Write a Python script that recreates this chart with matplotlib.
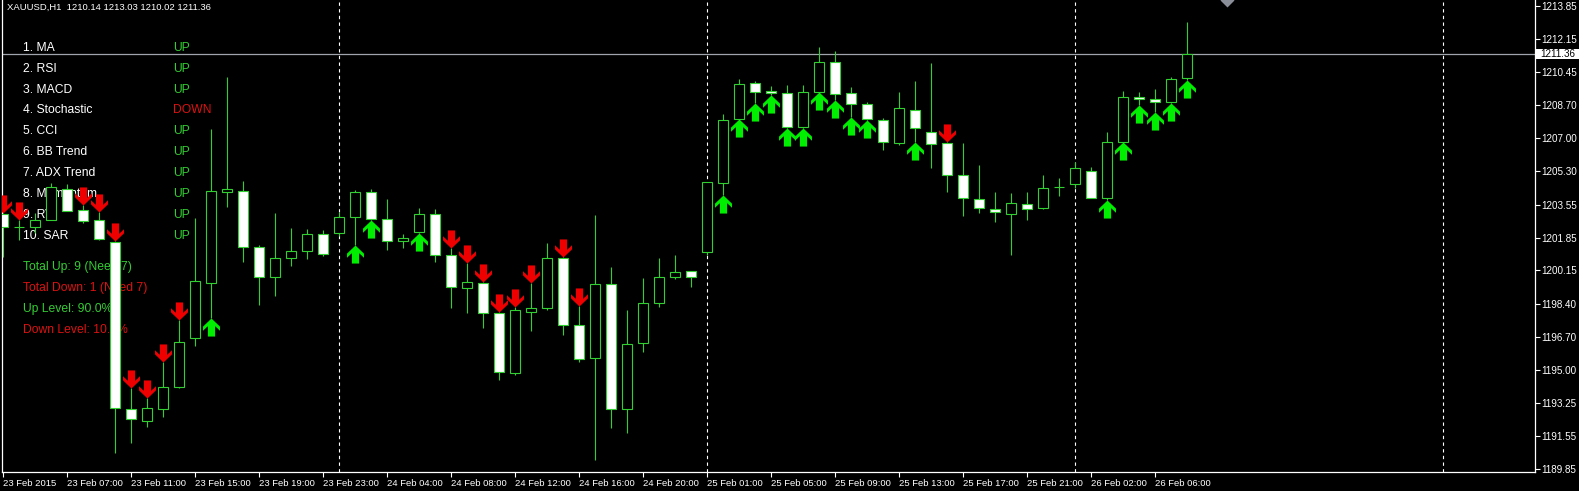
#python3

import numpy as np
import matplotlib
matplotlib.use('Agg')
import matplotlib.pyplot as plt
from matplotlib.path import Path
from matplotlib.patches import Rectangle
import matplotlib.transforms as mtransforms

plt.rcParams['font.family'] = ['Liberation Sans', 'DejaVu Sans']

#chart header
symbol = 'XAUUSD,H1'

#hourly bars (one row per bar, left to right)
opens = [1203.05, 1202.42, 1202.40, 1202.76, 1204.37, 1203.28, 1202.76, 1201.62, 1192.96, 1192.34,
         1192.96, 1194.10, 1196.64, 1199.49, 1204.21, 1204.26, 1201.36, 1199.80, 1200.79, 1201.15,
         1202.03, 1202.08, 1202.91, 1204.21, 1202.81, 1201.67, 1202.14, 1203.07, 1200.94, 1199.23,
         1199.49, 1197.94, 1194.83, 1197.99, 1198.20, 1200.79, 1197.32, 1195.60, 1199.44, 1192.96,
         1196.38, 1198.46, 1199.80, 1200.11, 1201.10, 1204.68, 1208.00, 1209.86, 1209.45, 1209.34,
         1207.58, 1209.39, 1210.95, 1209.34, 1208.77, 1207.94, 1206.75, 1208.46, 1207.32, 1206.75,
         1205.09, 1203.85, 1203.33, 1203.07, 1203.59, 1203.38, 1204.47, 1204.62, 1205.30, 1203.90,
         1206.80, 1209.13, 1209.03, 1208.88, 1210.14]
highs = [1203.10, 1202.76, 1203.12, 1204.68, 1204.62, 1203.54, 1203.17, 1201.67, 1194.05, 1193.53,
         1195.40, 1197.57, 1202.86, 1207.47, 1210.17, 1204.78, 1201.46, 1203.12, 1202.34, 1202.29,
         1202.24, 1203.17, 1204.31, 1204.37, 1203.85, 1202.03, 1203.38, 1203.33, 1201.31, 1200.53,
         1199.55, 1198.00, 1198.25, 1199.49, 1201.57, 1200.84, 1198.30, 1203.02, 1200.32, 1198.09,
         1199.75, 1200.79, 1200.94, 1200.12, 1204.75, 1208.25, 1210.07, 1209.96, 1209.70, 1209.76,
         1209.76, 1211.73, 1211.52, 1209.65, 1208.88, 1208.05, 1209.39, 1209.96, 1210.90, 1206.80,
         1206.75, 1205.61, 1204.21, 1204.16, 1204.21, 1205.09, 1204.94, 1205.76, 1205.51, 1207.32,
         1209.45, 1209.39, 1209.55, 1210.17, 1213.03]
lows = [1200.84, 1201.72, 1202.08, 1202.74, 1203.20, 1202.60, 1201.72, 1190.68, 1191.20, 1192.03,
        1192.55, 1194.05, 1196.23, 1197.68, 1203.43, 1200.58, 1198.35, 1198.82, 1200.37, 1200.74,
        1200.90, 1201.93, 1201.46, 1202.78, 1201.20, 1201.31, 1202.08, 1200.58, 1198.20, 1197.94,
        1197.16, 1194.46, 1194.72, 1197.00, 1198.09, 1196.80, 1195.40, 1190.32, 1191.98, 1191.72,
        1195.92, 1198.25, 1199.70, 1199.28, 1200.94, 1204.05, 1207.98, 1208.82, 1209.24, 1207.55,
        1207.55, 1209.37, 1208.98, 1208.10, 1207.94, 1206.39, 1206.65, 1206.80, 1205.45, 1204.21,
        1202.97, 1203.12, 1202.65, 1200.94, 1202.76, 1203.33, 1203.99, 1204.42, 1203.88, 1203.80,
        1206.78, 1208.72, 1208.36, 1208.82, 1210.02]
closes = [1202.40, 1202.38, 1202.76, 1204.47, 1203.22, 1202.71, 1201.77, 1193.01, 1192.44, 1193.01,
          1194.10, 1196.43, 1199.60, 1204.26, 1204.37, 1201.36, 1199.80, 1200.79, 1201.15, 1202.03,
          1201.00, 1202.91, 1204.21, 1202.81, 1201.67, 1201.82, 1203.07, 1200.94, 1199.28, 1199.54,
          1197.94, 1194.88, 1198.09, 1198.20, 1200.79, 1197.32, 1195.55, 1199.44, 1192.96, 1196.33,
          1198.46, 1199.80, 1200.06, 1199.80, 1204.73, 1207.94, 1209.81, 1209.39, 1209.34, 1207.58,
          1209.39, 1210.95, 1209.29, 1208.77, 1208.00, 1206.80, 1208.56, 1207.53, 1206.70, 1205.09,
          1203.90, 1203.38, 1203.17, 1203.64, 1203.33, 1204.42, 1204.49, 1205.45, 1203.90, 1206.80,
          1209.13, 1209.03, 1208.88, 1210.07, 1211.36]
#signal arrows: 1 = up arrow, -1 = down arrow, 0 = none
signals = [-1, -1, 0, 0, 0, -1, -1, -1, -1, -1,
           -1, -1, 0, 1, 0, 0, 0, 0, 0, 0,
           0, 0, 1, 1, 0, 0, 1, 0, -1, -1,
           -1, -1, -1, -1, 0, -1, -1, 0, 0, 0,
           0, 0, 0, 0, 0, 1, 1, 1, 1, 1,
           1, 1, 1, 1, 1, 0, 0, 1, 0, -1,
           0, 0, 0, 0, 0, 0, 0, 0, 0, 1,
           1, 1, 1, 1, 1]

#first bar of each trading day (period separators)
day_starts = [21, 44, 67, 90]

#axis labels
time_labels = ['23 Feb 2015', '23 Feb 07:00', '23 Feb 11:00', '23 Feb 15:00', '23 Feb 19:00',
               '23 Feb 23:00', '24 Feb 04:00', '24 Feb 08:00', '24 Feb 12:00', '24 Feb 16:00',
               '24 Feb 20:00', '25 Feb 01:00', '25 Feb 05:00', '25 Feb 09:00', '25 Feb 13:00',
               '25 Feb 17:00', '25 Feb 21:00', '26 Feb 02:00', '26 Feb 06:00']
price_labels = ['1213.85', '1212.15', '1210.45', '1208.70', '1207.00', '1205.30', '1203.55',
                '1201.85', '1200.15', '1198.40', '1196.70', '1195.00', '1193.25', '1191.55', '1189.85']

#indicator panel
ind_names = ['1. MA', '2. RSI', '3. MACD', '4. Stochastic', '5. CCI', '6. BB Trend',
             '7. ADX Trend', '8. Momentum', '9. RVI', '10. SAR']
ind_status = ['UP', 'UP', 'UP', 'DOWN', 'UP', 'UP', 'UP', 'UP', 'UP', 'UP']
summary_text = ['Total Up: 9 (Need 7)', 'Total Down: 1 (Need 7)', 'Up Level: 90.0%', 'Down Level: 10.0%']
summary_dir = ['UP', 'DOWN', 'UP', 'DOWN']

#colors
GREEN = '#33cc33'
RED = '#dd1111'
CANDLE = '#30d030'
ARROW_UP = '#00ee00'
ARROW_DN = '#ee0000'

W, H = 1579, 491

fig = plt.figure(figsize=(W / 100, H / 100), dpi=100, facecolor='black')
ax = fig.add_axes([2 / W, 19 / H, 1533 / W, 472 / H], facecolor='black')

n = len(opens)
x = np.arange(n)
o = np.array(opens)
h = np.array(highs)
l = np.array(lows)
c = np.array(closes)
sig = np.array(signals)

#wicks and bodies (bull = black body, bear = white body)
ax.vlines(x, l, h, color=CANDLE, lw=0.8, zorder=2)
body_bot = np.minimum(o, c)
body_h = np.maximum(np.abs(c - o), 0.02)
fills = np.where(c >= o, 'black', 'white')
ax.bar(x, body_h, bottom=body_bot, width=0.6, color=fills, edgecolor=CANDLE, linewidth=0.8, zorder=3)

#arrow markers, tip at the anchor point
up_verts = [(0, 0), (0.47, -0.45), (0.47, -0.68), (0.2, -0.42), (0.2, -1.0),
            (-0.2, -1.0), (-0.2, -0.42), (-0.47, -0.68), (-0.47, -0.45), (0, 0)]
codes = [Path.MOVETO] + [Path.LINETO] * 8 + [Path.CLOSEPOLY]
up_path = Path(up_verts, codes)
dn_path = Path([(vx, -vy) for vx, vy in up_verts], codes)

ax.plot(x[sig == 1], l[sig == 1], linestyle='none', marker=up_path, ms=26,
        mfc=ARROW_UP, mec='none', zorder=4)
ax.plot(x[sig == -1], h[sig == -1], linestyle='none', marker=dn_path, ms=26,
        mfc=ARROW_DN, mec='none', zorder=4)

#period separators
for d in day_starts:
    ax.axvline(d, color='white', lw=0.8, dashes=(3, 3), zorder=1)

#bid line
ax.axhline(c[-1], color='#a0a4ac', lw=0.9, zorder=1)

#limits (16 px per bar)
ax.set_xlim(-1 / 16, 1533 / 16 - 1 / 16)
ax.set_ylim(1189.694, 1214.163)

#chart shift marker
ax.plot(n + 1.5, 1214.163, marker='D', ms=7, color='#8a8e98', mec='none', clip_on=True, zorder=5)

#axes styling
for s in ['left', 'bottom', 'right']:
    ax.spines[s].set_color('white')
    ax.spines[s].set_linewidth(0.9)
ax.spines['top'].set_visible(False)

ax.yaxis.tick_right()
ax.set_yticks([float(p) for p in price_labels])
ax.set_yticklabels(price_labels)
ax.set_xticks(np.arange(0, 4 * len(time_labels), 4))
ax.set_xticklabels(time_labels)
ax.tick_params(colors='white', length=3.5, width=0.8, direction='out')
ax.tick_params(axis='x', pad=1.5, labelsize=6.8)
ax.tick_params(axis='y', pad=1, labelsize=7.1)
for lbl in ax.get_xticklabels():
    lbl.set_ha('left')

#price label box on the right scale
trans = mtransforms.blended_transform_factory(ax.transAxes, ax.transData)
px = 1 / 1533
ax.add_patch(Rectangle((1 + 1 * px, c[-1] - 5.2 / 19.29), 43 * px, 10.4 / 19.29, transform=trans,
                       facecolor='white', edgecolor='none', clip_on=False, zorder=6))
ax.text(1 + 5 * px, c[-1], '%.2f' % c[-1], transform=trans, ha='left', va='center', fontsize=7.1,
        color='black', clip_on=False, zorder=7)

#header text
ax.text(7 / W, 1 - 7.5 / H, '%s  %.2f %.2f %.2f %.2f' % (symbol, o[-1], h[-1], l[-1], c[-1]),
        transform=fig.transFigure, color='white', fontsize=6.8, va='center', ha='left', zorder=1)

#indicator panel (drawn under the candles)
row0, step = 47.7, 20.9
for k in range(len(ind_names)):
    yy = 1 - (row0 + k * step) / H
    ax.text(23 / W, yy, ind_names[k], transform=fig.transFigure, color='white',
            fontsize=8.7, va='center', zorder=1)
    ax.text(173 / W, yy, ind_status[k], transform=fig.transFigure,
            color=GREEN if ind_status[k] == 'UP' else RED, fontsize=8.7, va='center', zorder=1)
for k in range(len(summary_text)):
    yy = 1 - (row0 + (len(ind_names) + 0.5 + k) * step) / H
    ax.text(23 / W, yy, summary_text[k], transform=fig.transFigure,
            color=GREEN if summary_dir[k] == 'UP' else RED, fontsize=8.7, va='center', zorder=1)

plt.savefig('out.png', dpi=100, facecolor='black')
